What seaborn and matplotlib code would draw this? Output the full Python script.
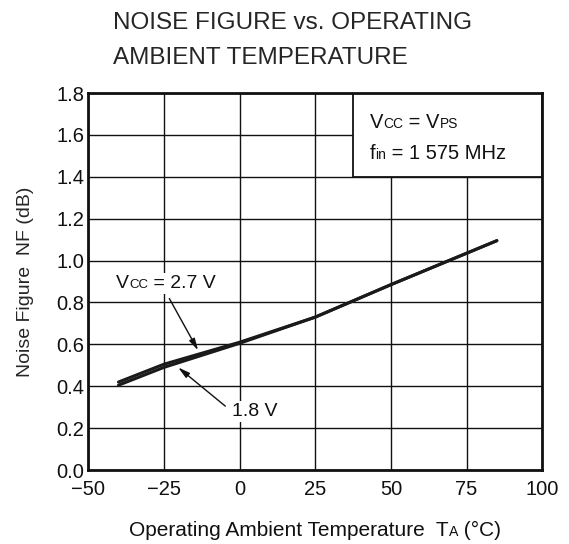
import numpy as np
import pandas as pd
import matplotlib
matplotlib.use('Agg')
import matplotlib.pyplot as plt
from matplotlib.patches import Rectangle
from matplotlib.offsetbox import TextArea, HPacker, AnnotationBbox
import seaborn as sns

# Data
temp = [-40, -25, 0, 25, 50, 75, 85]
nf_27 = [0.42, 0.505, 0.61, 0.73, 0.885, 1.035, 1.095]
nf_18 = [0.405, 0.49, 0.605, 0.73, 0.885, 1.035, 1.095]
x_ticks = [-50, -25, 0, 25, 50, 75, 100]
x_ticklabels = ['\u221250', '\u221225', '0', '25', '50', '75', '100']
y_ticks = [0.0, 0.2, 0.4, 0.6, 0.8, 1.0, 1.2, 1.4, 1.6, 1.8]

sns.set_style('white')
plt.rcParams['font.family'] = ['Liberation Sans', 'DejaVu Sans']

df = pd.DataFrame({
    'temp': temp * 2,
    'nf': nf_27 + nf_18,
    'vcc': ['2.7 V'] * len(temp) + ['1.8 V'] * len(temp),
})


def rich(ax, parts, xy, size, xycoords='data', align=(0, 0.5), white=False):
    # small letters sit on the baseline, datasheet style
    boxes = [TextArea(s, textprops=dict(fontsize=size * (0.68 if small else 1),
                                        color='#111111'))
             for s, small in parts]
    pack = HPacker(children=boxes, align='baseline', pad=0, sep=0)
    ab = AnnotationBbox(pack, xy, xycoords=xycoords, box_alignment=align,
                        frameon=white, pad=0.15, zorder=4,
                        bboxprops=dict(facecolor='white', edgecolor='none'))
    ax.add_artist(ab)


fig = plt.figure(figsize=(5.69, 5.44), dpi=100)
ax = fig.add_axes([0.155, 0.136, 0.798, 0.693])

sns.lineplot(data=df, x='temp', y='nf', units='vcc', estimator=None,
             color='#1a1a1a', lw=2.2, ax=ax, legend=False, zorder=3)

ax.set_xlim(-50, 100)
ax.set_ylim(0, 1.8)
ax.set_xticks(x_ticks)
ax.set_xticklabels(x_ticklabels)
ax.set_yticks(y_ticks)
ax.set_yticklabels([f'{v:.1f}' for v in y_ticks])
ax.tick_params(length=0, labelsize=14.5, colors='#111111')
ax.tick_params(axis='x', pad=7)
ax.tick_params(axis='y', pad=3)
ax.grid(True, color='#111111', lw=1.0)
for s in ax.spines.values():
    s.set_visible(True)
    s.set_color('#111111')
    s.set_linewidth(2.0)
ax.set_xlabel('')
ax.set_ylabel('Noise Figure  NF (dB)', fontsize=14, labelpad=16)

# condition box (hides the grid behind it)
ax.add_patch(Rectangle((37.5, 1.4), 62.5, 0.4, facecolor='white',
                       edgecolor='#111111', lw=1.3, zorder=2.5))
rich(ax, [('V', 0), ('CC', 1), (' = V', 0), ('PS', 1)], (43, 1.657), 14.5)
rich(ax, [('f', 0), ('in', 1), (' = 1 575 MHz', 0)], (43, 1.51), 14.5)

# curve labels
rich(ax, [('V', 0), ('CC', 1), (' = 2.7 V', 0)], (-40.8, 0.89), 14, white=True)
rich(ax, [('1.8 V', 0)], (-2.6, 0.28), 14, white=True)
arrow = dict(arrowstyle='-|>,head_length=0.7,head_width=0.18', color='#111111',
             lw=1.0, shrinkA=0, shrinkB=0)
ax.annotate('', xy=(-13.7, 0.571), xytext=(-23.2, 0.819), arrowprops=arrow, zorder=4)
ax.annotate('', xy=(-20.3, 0.49), xytext=(-4.7, 0.305), arrowprops=arrow, zorder=4)

# x axis label
rich(ax, [('Operating Ambient Temperature  T', 0), ('A', 1), (' (\u00b0C)', 0)],
     (0.5, 1 - 530 / 544), 15, xycoords=('axes fraction', 'figure fraction'),
     align=(0.5, 0.5))

fig.text(0.198, 1 - 29 / 544, 'NOISE FIGURE vs. OPERATING',
         fontsize=17.5, ha='left', va='baseline')
fig.text(0.198, 1 - 64 / 544, 'AMBIENT TEMPERATURE',
         fontsize=17.5, ha='left', va='baseline')

fig.savefig('out.png', dpi=100)
